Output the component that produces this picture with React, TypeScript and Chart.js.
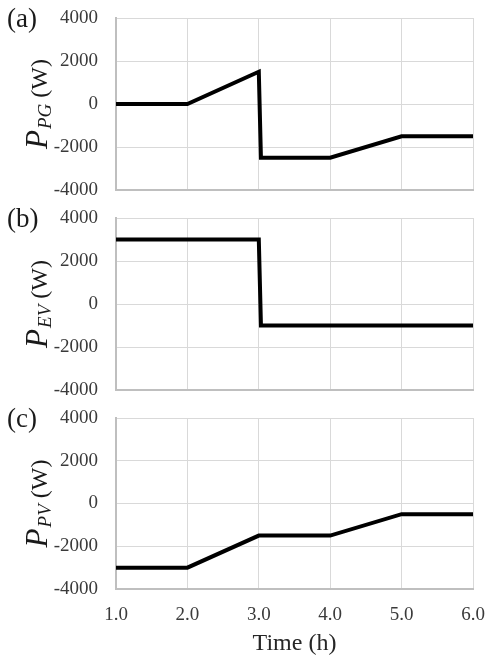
import React, { useEffect, useRef } from "react";
import { Chart, registerables } from "chart.js";

Chart.register(...registerables);

// ---- data ----
const timeTicks = [1, 2, 3, 4, 5, 6];
const powerTicks = [-4000, -2000, 0, 2000, 4000];

const timePG = [1, 2, 3, 3.03, 4, 5, 6];
const valuesPG = [0, 0, 1500, -2500, -2500, -1500, -1500];

const timeEV = [1, 3, 3.03, 6];
const valuesEV = [3000, 3000, -1000, -1000];

const timePV = [1, 2, 3, 4, 5, 6];
const valuesPV = [-3000, -3000, -1500, -1500, -500, -500];

const panelLabels = ["(a)", "(b)", "(c)"];
const subscripts = ["PG", "EV", "PV"];
const unitText = "(W)";
const xTitle = "Time (h)";

const serif = "'Liberation Serif', 'Times New Roman', serif";

type PanelProps = {
  times: number[];
  values: number[];
  label: string;
  sub: string;
  showX: boolean;
  top: number;
  height: number;
};

function Panel({ times, values, label, sub, showX, top, height }: PanelProps) {
  const ref = useRef<HTMLCanvasElement | null>(null);

  useEffect(() => {
    const canvas = ref.current;
    if (!canvas) return;

    const titlePlugin = {
      id: "panelTitles",
      afterDraw(chart: any) {
        const ctx = chart.ctx as CanvasRenderingContext2D;
        const area = chart.chartArea;
        ctx.save();
        // panel label
        ctx.fillStyle = "#1a1a1a";
        ctx.font = `27px ${serif}`;
        ctx.textAlign = "left";
        ctx.textBaseline = "middle";
        ctx.fillText(label, 7, area.top + 2);

        // rotated y title: P_sub (W)
        const cy = (area.top + area.bottom) / 2;
        const fP = `italic 31px ${serif}`;
        const fS = `italic 19px ${serif}`;
        const fU = `24px ${serif}`;
        ctx.font = fP;
        const wP = ctx.measureText("P").width;
        ctx.font = fS;
        const wS = ctx.measureText(sub).width;
        ctx.font = fU;
        const wSp = ctx.measureText(" ").width;
        const wU = ctx.measureText(unitText).width;
        const total = wP + 1 + wS + wSp + wU;
        ctx.translate(0, cy);
        ctx.rotate(-Math.PI / 2);
        ctx.textBaseline = "alphabetic";
        let u = -total / 2;
        ctx.font = fP;
        ctx.fillText("P", u, 47);
        u += wP + 1;
        ctx.font = fS;
        ctx.fillText(sub, u, 51);
        u += wS + wSp;
        ctx.font = fU;
        ctx.fillText(unitText, u, 47);
        ctx.restore();
      },
    };

    const chart = new Chart(canvas, {
      type: "line",
      data: {
        datasets: [
          {
            data: times.map((t, i) => ({ x: t, y: values[i] })),
            borderColor: "#000000",
            borderWidth: 4,
            pointRadius: 0,
            tension: 0,
            fill: false,
          },
        ],
      },
      options: {
        responsive: false,
        animation: false,
        layout: { autoPadding: false, padding: { left: 0, right: 16, top: 18, bottom: showX ? 4 : 10 } },
        plugins: {
          legend: { display: false },
          tooltip: { enabled: false },
        },
        scales: {
          x: {
            type: "linear",
            min: 1,
            max: 6,
            afterBuildTicks: (axis: any) => {
              axis.ticks = timeTicks.map((v) => ({ value: v }));
            },
            grid: { color: "#d9d9d9", lineWidth: 1, drawTicks: false },
            border: { color: "#bfbfbf", width: 2 },
            ticks: {
              display: showX,
              padding: 15,
              color: "#3a3a3a",
              font: { family: serif, size: 19 },
              maxRotation: 0,
              autoSkip: false,
              callback: (v: any) => Number(v).toFixed(1),
            },
            title: {
              display: showX,
              text: xTitle,
              color: "#262626",
              font: { family: serif, size: 24 },
              padding: 0,
            },
            afterFit: (axis: any) => {
              axis.height = showX ? 69 : 0;
              axis.paddingLeft = 0;
              axis.paddingRight = 0;
            },
          },
          y: {
            type: "linear",
            min: -4000,
            max: 4000,
            afterBuildTicks: (axis: any) => {
              axis.ticks = powerTicks.map((v) => ({ value: v }));
            },
            grid: { color: "#d9d9d9", lineWidth: 1, drawTicks: false },
            border: { color: "#bfbfbf", width: 2 },
            ticks: {
              padding: 18,
              color: "#3a3a3a",
              font: { family: serif, size: 19, lineHeight: 1 },
              callback: (v: any) => String(v),
            },
            afterFit: (axis: any) => {
              axis.width = 116;
              axis.paddingTop = 0;
              axis.paddingBottom = 0;
            },
          },
        },
      } as any,
      plugins: [titlePlugin],
    });

    return () => chart.destroy();
  }, [times, values, label, sub, showX]);

  return (
    <canvas
      ref={ref}
      width={489}
      height={height}
      style={{ position: "absolute", left: 0, top, display: "block", width: 489, height }}
    />
  );
}

export default function App() {
  return (
    <div style={{ position: "absolute", left: 0, top: 0, width: 489, height: 662, background: "#ffffff" }}>
      <Panel times={timePG} values={valuesPG} label={panelLabels[0]} sub={subscripts[0]} showX={false} top={0} height={200} />
      <Panel times={timeEV} values={valuesEV} label={panelLabels[1]} sub={subscripts[1]} showX={false} top={200} height={200} />
      <Panel times={timePV} values={valuesPV} label={panelLabels[2]} sub={subscripts[2]} showX={true} top={400} height={262} />
    </div>
  );
}
